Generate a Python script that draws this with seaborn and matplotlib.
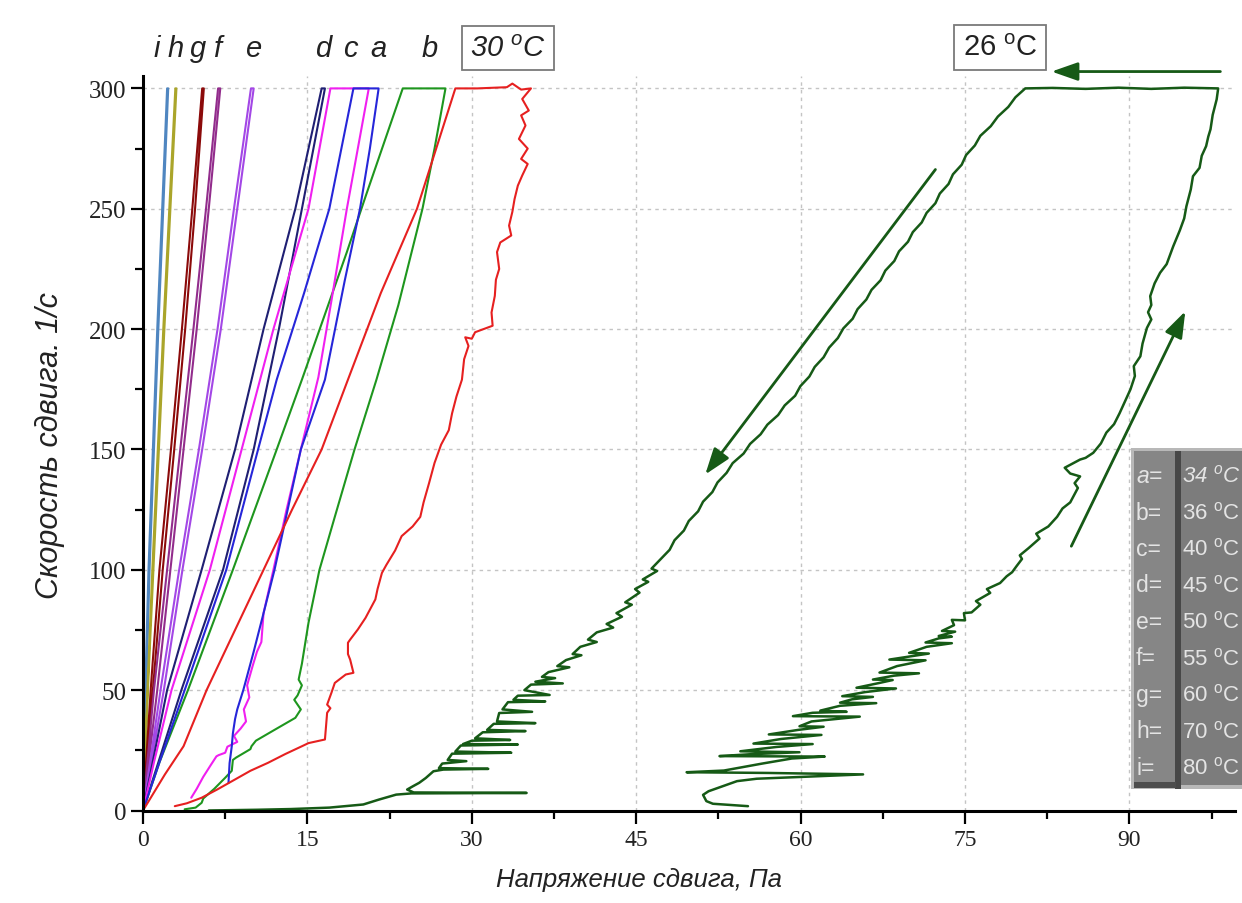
import numpy as np
import pandas as pd
import matplotlib
matplotlib.use('Agg')
import matplotlib.pyplot as plt
from matplotlib.patches import Rectangle
import seaborn as sns

# shear rate levels used by the simple (near linear) loops: up then down
loop_rate = [0, 50, 100, 150, 200, 250, 300, 300, 250, 200, 150, 100, 50, 0]

# stress values (Pa) for the loops of the hot samples
i_stress = [0, 0.3, 0.6, 1.0, 1.4, 1.85, 2.3, 2.2, 1.75, 1.3, 0.9, 0.5, 0.2, 0]
h_stress = [0, 0.45, 0.95, 1.45, 1.95, 2.5, 3.05, 2.95, 2.4, 1.85, 1.35, 0.85, 0.4, 0]
g_stress = [0, 0.9, 1.8, 2.85, 3.85, 4.75, 5.55, 5.4, 4.5, 3.55, 2.55, 1.5, 0.7, 0]
f_stress = [0, 1.3, 2.5, 3.7, 4.9, 6.0, 7.05, 6.85, 5.75, 4.6, 3.4, 2.2, 1.0, 0]
e_stress = [0, 1.9, 3.6, 5.4, 7.1, 8.6, 10.1, 9.85, 8.3, 6.8, 5.1, 3.3, 1.6, 0]
d_stress = [0, 2.2, 5.35, 8.4, 11.0, 13.9, 16.3, 16.6, 14.5, 12.4, 10.1, 7.3, 3.5, 0]

# c = 40 C (magenta)
c_curve = [(0, 0), (1.0, 20), (2.6, 50), (6.1, 100), (9.0, 150), (11.9, 200), (15.1, 250),
           (17.1, 300), (20.6, 300), (19.6, 275), (18.6, 250), (17.2, 212), (16.0, 180),
           (14.4, 150), (13.1, 125), (11.9, 100), (11.3, 88), (11.0, 82), (10.8, 70),
           (10.4, 66), (10.0, 60), (9.5, 52), (9.7, 47), (9.2, 42), (9.4, 37), (8.9, 34),
           (8.3, 31), (8.6, 28.5), (7.7, 26.5), (7.5, 24), (6.9, 23), (6.7, 22.5),
           (6.2, 19), (5.5, 14), (4.9, 9), (4.4, 5.3)]

# a = 34 C (blue)
a_curve = [(0, 0), (1.5, 20), (3.8, 50), (7.6, 100), (10.5, 150), (12.2, 179), (14.7, 215),
           (17.0, 250), (19.2, 300), (21.5, 300), (20.7, 275), (19.8, 250), (18.4, 220),
           (16.6, 179), (14.4, 150), (13.2, 125), (12.0, 100), (11.0, 82), (10.1, 66),
           (9.15, 50), (8.6, 42), (8.4, 38), (8.2, 32), (8.1, 26.7), (7.9, 19.7), (7.8, 11.5)]

# b = 36 C (green)
b_curve = [(0, 0), (1.5, 20), (4.1, 50), (8.2, 100), (12.2, 150), (14.5, 179), (18.6, 232),
           (20.3, 255), (23.7, 300), (27.6, 300), (26.6, 275), (25.5, 250), (23.3, 210),
           (21.3, 179), (19.3, 150), (17.5, 122), (16.1, 100), (15.1, 78), (14.5, 61),
           (14.2, 54.4), (14.5, 52), (14.1, 47.8), (13.8, 46), (14.4, 42), (14.2, 40.6),
           (13.9, 38.5), (12.0, 33.5), (10.3, 29), (9.9, 26.7), (9.8, 25.5), (8.5, 22),
           (8.2, 21), (8.1, 16.5), (7.5, 13.6), (6.5, 9), (5.5, 5), (5.35, 3.2), (4.8, 1.2),
           (3.8, 0.5)]

# 30 C (red)
red_up = [(0, 0), (2.0, 15), (3.7, 26.7), (5.8, 50), (8.4, 75), (11.0, 100), (13.6, 125),
          (16.3, 150), (18.7, 179), (21.7, 215), (25.0, 250), (28.5, 300)]
red_top = [(30.5, 300), (33.2, 300.5), (33.7, 302), (34.5, 299.5), (35.4, 300)]
red_down = [(34.6, 295.6), (35.2, 290.8), (34.5, 288.8), (34.9, 284.6), (34.3, 279),
            (35.1, 275), (34.5, 270.7), (35.1, 268.6), (34.6, 263.8), (34.2, 259.6),
            (33.9, 254), (33.7, 248.7), (33.4, 243), (33.6, 238.9), (32.6, 236),
            (32.3, 232), (32.5, 225), (32.2, 220.5), (32.1, 213.8), (31.8, 206.9),
            (31.9, 201.4), (30.3, 198.7), (30.0, 196), (29.4, 196.6), (29.7, 193),
            (29.3, 187.5), (29.1, 179), (28.6, 172), (28.2, 165), (27.9, 158), (27.2, 152),
            (26.6, 144.4), (26.1, 136), (25.6, 128), (25.3, 122), (24.6, 118), (23.6, 114),
            (23.0, 108), (22.2, 102), (21.8, 98.7), (21.4, 92), (21.2, 87.7), (20.3, 80),
            (19.6, 75.2), (18.9, 71), (18.7, 69.7), (18.7, 65), (18.9, 62.7), (19.2, 57.2),
            (18.5, 56.5), (17.5, 53), (17.2, 49), (16.8, 44), (17.1, 42.5), (16.8, 40.6),
            (16.7, 35), (16.6, 29.5), (15.1, 28), (14.5, 26.7), (13.0, 23.5), (11.4, 19.8),
            (9.8, 16.5), (8.4, 12.9), (6.8, 8.8), (5.35, 5.3), (4.0, 3.0), (2.9, 1.8)]

# 26 C (dark green): left branch bottom -> top, top plateau, right branch bottom -> top
t26_left_low = [(6.0, 0.0), (10.4, 0.3), (13.5, 0.6), (17.0, 1.2), (20.1, 2.5), (21.5, 4.5),
                (23.1, 6.6), (24.5, 7.1), (35.0, 7.3), (24.7, 7.5), (24.1, 8.7), (24.6, 10.0),
                (25.2, 11.5), (25.8, 13.5), (26.5, 16.3), (27.4, 17.0), (31.5, 17.3),
                (27.0, 17.6), (27.3, 19.5), (29.5, 20.5), (27.8, 21.0), (28.2, 23.6),
                (33.6, 24.0), (28.5, 24.5), (29.0, 27.0), (34.2, 27.4), (29.2, 27.6),
                (30.0, 29.0), (33.5, 29.3), (30.3, 30.0), (31.0, 32.5), (34.9, 33.0),
                (31.4, 33.5), (32.0, 36.0), (35.8, 36.3), (32.3, 37.0), (32.5, 40.5),
                (35.5, 41.0), (32.8, 42.0), (33.3, 45.0), (36.7, 45.3), (33.8, 46.0),
                (34.2, 47.7), (37.1, 48.0), (34.8, 50.0), (35.4, 52.3), (38.3, 52.8),
                (35.8, 53.5), (37.6, 55.0), (36.4, 55.5), (37.0, 57.5), (38.9, 59.5),
                (37.8, 60.0), (38.6, 62.5), (40.0, 64.5), (39.2, 65.0), (39.9, 68.0),
                (41.4, 70.0), (40.6, 71.0), (41.4, 74.0), (42.9, 76.0), (42.3, 77.5),
                (43.7, 80.5), (43.2, 82.0), (44.6, 85.5), (44.0, 86.5), (45.3, 90.5),
                (44.9, 92.0), (46.1, 95.0), (45.6, 96.0), (46.9, 99.5), (46.4, 100.5),
                (47.2, 104.3)]
t26_left_high = [(48.05, 108.3), (48.5, 112.3), (49.35, 116.3), (49.8, 120.3), (50.65, 124.3),
                 (51.1, 128.3), (51.95, 132.3), (52.42, 136.3), (53.25, 140.3), (53.8, 144.3),
                 (54.8, 148.3), (55.39, 152.3), (56.35, 156.3), (56.97, 160.3), (57.95, 164.3),
                 (58.55, 168.3), (59.5, 172.3), (59.98, 176.3), (60.8, 180.3), (61.29, 184.3),
                 (62.1, 188.3), (62.6, 192.3), (63.4, 196.3), (63.9, 200.3), (64.75, 204.3),
                 (65.2, 208.3), (66.0, 212.3), (66.47, 216.3), (67.3, 220.3), (67.73, 224.3),
                 (68.55, 228.3), (68.98, 232.3), (69.8, 236.3), (70.24, 240.3), (71.05, 244.3),
                 (71.5, 248.3), (72.3, 252.3), (72.7, 256.3), (73.5, 260.3), (73.9, 264.3),
                 (74.7, 268.3), (75.1, 272.3), (75.9, 276.3), (76.4, 280.3), (77.35, 284.3),
                 (78.0, 288.3), (78.95, 292.3), (79.6, 296.3), (80.5, 300.0)]
t26_top = [(83.0, 300.2), (86.0, 299.8), (89.0, 300.3), (92.0, 299.8), (95.0, 300.3), (98.1, 300.0)]
t26_right = [(55.2, 1.8), (52.0, 2.8), (51.4, 3.9), (51.1, 6.5), (51.6, 8.0), (54.2, 12.2),
             (56.0, 13.2), (65.7, 15.0), (57.0, 15.6), (49.6, 15.9), (53.0, 16.6), (56.5, 19.5),
             (59.2, 21.6), (62.2, 22.4), (52.6, 22.6), (55.5, 23.4), (59.9, 24.2), (54.5, 24.6),
             (57.8, 26.4), (61.1, 27.6), (55.7, 27.8), (58.2, 29.7), (61.9, 31.4), (57.1, 31.6),
             (59.8, 33.5), (62.1, 34.8), (59.9, 35.0), (61.0, 37.0), (65.4, 39.0), (59.3, 39.2),
             (61.1, 40.6), (64.2, 41.0), (61.8, 41.5), (63.6, 43.5), (66.9, 44.6), (63.6, 44.8),
             (64.7, 46.2), (66.6, 47.2), (63.8, 47.5), (65.9, 49.2), (68.7, 50.7), (65.1, 51.0),
             (67.2, 53.0), (68.4, 54.2), (66.6, 54.4), (68.5, 56.0), (70.8, 57.0), (67.2, 57.3),
             (68.8, 60.0), (71.4, 62.4), (68.1, 62.7), (70.0, 64.0), (71.7, 65.2), (69.9, 65.5),
             (71.5, 68.0), (73.8, 69.5), (71.4, 69.8), (72.6, 71.5), (73.8, 72.2), (72.6, 72.5),
             (74.1, 74.3), (72.9, 74.6), (74.0, 77.0), (73.8, 79.2), (75.0, 79.0), (74.9, 82.0),
             (75.6, 82.3), (76.4, 85.5), (76.0, 87.0), (77.3, 90.4), (77.0, 92.0), (78.2, 94.5),
             (78.8, 97.3), (79.3, 99.0), (79.7, 101.5), (80.2, 104.5), (80.0, 106.0), (80.8, 109.0),
             (81.8, 113.0), (81.5, 115.0), (82.6, 118.0), (83.4, 122.0), (83.9, 125.5),
             (84.6, 128.0), (84.9, 130.6), (85.3, 134.0), (85.0, 136.0), (85.5, 138.8),
             (84.6, 140.0), (84.1, 142.4), (85.5, 145.8), (86.0, 146.5), (86.7, 148.6),
             (87.4, 152.5), (87.9, 157.0), (88.6, 160.5), (89.1, 165.0), (89.6, 170.0),
             (90.1, 175.0), (90.5, 180.5), (90.4, 184.6), (91.0, 188.7), (91.2, 194.0),
             (91.6, 200.5), (92.0, 204.0), (91.7, 207.0), (92.0, 210.0), (91.9, 213.7),
             (92.3, 219.0), (92.8, 223.4), (93.4, 227.0), (94.0, 234.4), (94.6, 241.0),
             (95.0, 246.0), (95.2, 251.0), (95.6, 258.0), (95.8, 263.5), (96.4, 267.0),
             (96.6, 272.0), (97.0, 276.0), (97.2, 280.0), (97.4, 283.0), (97.6, 289.0),
             (97.96, 295.4)]

# arrows (tail, head) in data units
arrows_26 = [((98.3, 307.0), (82.9, 307.0)),
             ((72.3, 266.3), (51.3, 139.6)),
             ((84.7, 109.8), (95.1, 207.4))]

top_letters = ['i', 'h', 'g', 'f', 'e', 'd', 'c', 'a', 'b']
top_letters_px = [157, 176, 198, 217, 253, 323, 350, 378, 430]
legend_keys = ['a=', 'b=', 'c=', 'd=', 'e=', 'f=', 'g=', 'h=', 'i=']
legend_temps = [34, 36, 40, 45, 50, 55, 60, 70, 80]

colors = {
    'i': '#4f86c0', 'h': '#aaa52a', 'g': '#8b0a0a', 'f': '#922c8c', 'e': '#a347e6',
    'd': '#1f1f73', 'c': '#f01ff0', 'a': '#2626d9', 'b': '#1e961e',
    't30': '#e62020', 't26': '#165a16',
}

W, H = 1242, 904


def fx(px):
    return px / W


def fy(py):
    return 1 - py / H


def draw(ax, xs, ys, color, lw=1.5):
    df = pd.DataFrame({'stress': xs, 'rate': ys})
    sns.lineplot(data=df, x='stress', y='rate', sort=False, estimator=None,
                 color=color, lw=lw, ax=ax)


def split(pts):
    arr = np.array(pts, dtype=float)
    return arr[:, 0], arr[:, 1]


sns.set_theme(style='white')
plt.rcParams['font.family'] = ['Liberation Sans', 'DejaVu Sans']
plt.rcParams['mathtext.fontset'] = 'custom'
plt.rcParams['mathtext.rm'] = 'Liberation Sans'
plt.rcParams['mathtext.it'] = 'Liberation Sans:italic'

fig = plt.figure(figsize=(W / 100, H / 100), dpi=100)
fig.patch.set_facecolor('white')
ax = fig.add_axes([fx(143), fy(811.5), 99.6 * 10.96 / W, 305 * 2.407 / H])
ax.set_facecolor('white')

# simple loops
for key, st in [('i', i_stress), ('h', h_stress), ('g', g_stress), ('f', f_stress),
                ('e', e_stress), ('d', d_stress)]:
    draw(ax, st, loop_rate, colors[key])

for key, pts in [('b', b_curve), ('c', c_curve), ('a', a_curve)]:
    x, y = split(pts)
    draw(ax, x, y, colors[key])

x, y = split(red_up + red_top + red_down)
draw(ax, x, y, colors['t30'])

x, y = split(t26_left_low + t26_left_high + t26_top + t26_right[::-1])
draw(ax, x, y, colors['t26'], lw=1.8)

for tail, head in arrows_26:
    ax.annotate('', xy=head, xytext=tail, annotation_clip=False,
                arrowprops=dict(arrowstyle='-|>,head_length=0.8,head_width=0.28',
                                color=colors['t26'], lw=2.0, mutation_scale=20,
                                shrinkA=0, shrinkB=0))

ax.set_xlim(0, 99.6)
ax.set_ylim(0, 305)
ax.set_xticks(np.arange(0, 91, 15))
ax.set_xticks(np.arange(7.5, 99, 15), minor=True)
ax.set_yticks(np.arange(0, 301, 50))
ax.set_yticks(np.arange(25, 300, 50), minor=True)
ax.set_xlabel('')
ax.set_ylabel('')

for lab in ax.get_xticklabels():
    lab.set_fontfamily('Liberation Serif')
    lab.set_fontsize(17)
for lab in ax.get_yticklabels():
    lab.set_fontfamily('Liberation Serif')
    lab.set_fontsize(18)

ax.tick_params(axis='both', which='major', direction='out', length=9, width=1.6,
               color='black', labelcolor='#222222', bottom=True, left=True)
ax.tick_params(axis='both', which='minor', direction='out', length=5.5, width=1.6,
               color='black', bottom=True, left=True)
ax.tick_params(axis='x', which='major', pad=4)
ax.tick_params(axis='y', which='major', pad=3)

for side in ['top', 'right']:
    ax.spines[side].set_visible(False)
for side in ['left', 'bottom']:
    ax.spines[side].set_linewidth(2.2)
    ax.spines[side].set_color('black')

ax.grid(True, which='major', linestyle=(0, (2.5, 3)), color='#c4c4c4', lw=1.0)
ax.set_axisbelow(True)

# axis titles
fig.text(fx(50), fy(446), 'Скорость сдвига. 1/с', rotation=90, ha='center', va='center',
         fontsize=22, style='italic', color='#222222')
fig.text(fx(639), fy(880), 'Напряжение сдвига, Па', ha='center', va='center',
         fontsize=18.5, style='italic', color='#222222')

# curve letters above the plot
for letter, px in zip(top_letters, top_letters_px):
    fig.text(fx(px), fy(57), letter, ha='center', va='baseline', fontsize=21,
             style='italic', color='#222222')

fig.text(fx(508), fy(49), r'30 $^{o}$C', ha='center', va='center', fontsize=21,
         style='italic', color='#222222',
         bbox=dict(boxstyle='square,pad=0.28', fc='white', ec='#7a7a7a', lw=1.3))
fig.text(fx(1000), fy(48.5), r'26 $^{\mathrm{o}}$C', ha='center', va='center', fontsize=21,
         color='#222222',
         bbox=dict(boxstyle='square,pad=0.28', fc='white', ec='#7a7a7a', lw=1.3))

# grey legend panel (runs into the right edge of the picture)
panel = [
    ((1131, 449), (1260, 790), '#b8b8b8'),
    ((1134, 452), (1176, 784), '#868686'),
    ((1180, 452), (1260, 786), '#7c7c7c'),
    ((1175, 452), (1181, 790), '#474747'),
    ((1134, 783), (1176, 789), '#4d4d4d'),
]
for (x0, y0), (x1, y1), col in panel:
    fig.add_artist(Rectangle((fx(x0), fy(y1)), (x1 - x0) / W, (y1 - y0) / H,
                             transform=fig.transFigure, fc=col, ec='none', zorder=5))

for k, (key, temp) in enumerate(zip(legend_keys, legend_temps)):
    py = 476.5 + 36.5 * k
    style = 'italic' if k == 0 else 'normal'
    fig.text(fx(1136), fy(py), key, ha='left', va='center', fontsize=16.5,
             color='#e4e4e4', zorder=6, style=style)
    deg = r'$^{o}$' if k == 0 else r'$^{\mathrm{o}}$'
    fig.text(fx(1182), fy(py), f'{temp} ' + deg + 'C', ha='left', va='center', fontsize=16,
             color='#e4e4e4', zorder=6, style=style)

fig.savefig('out.png', dpi=100)
